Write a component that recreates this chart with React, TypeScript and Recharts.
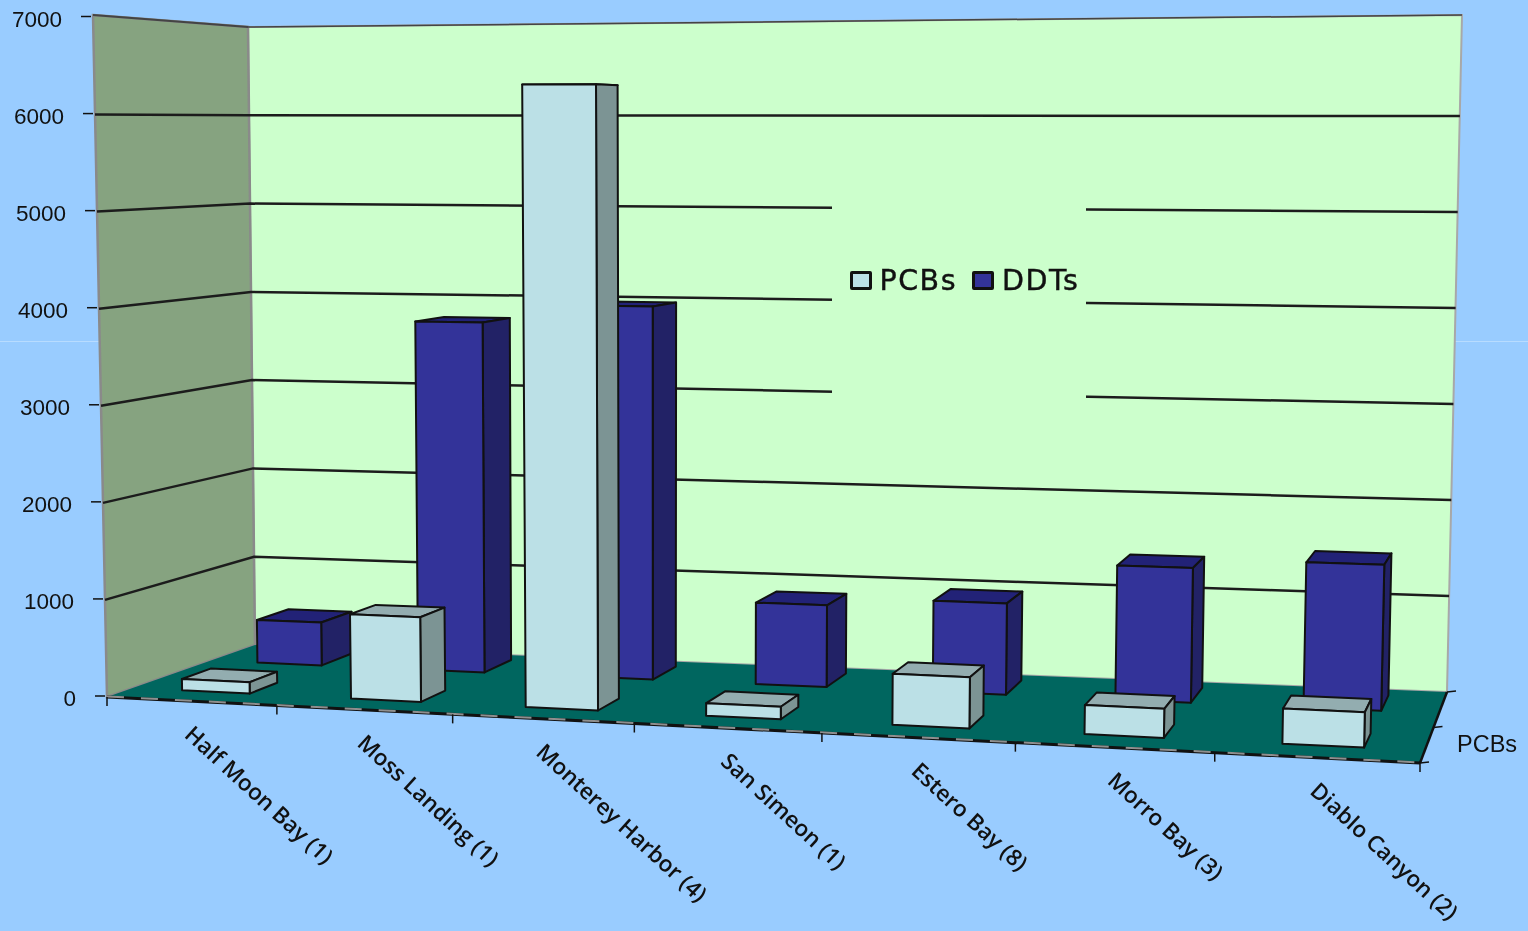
import { BarChart, Bar, XAxis, YAxis, CartesianGrid, Legend } from 'recharts';

const categories = [
  'Half Moon Bay (1)',
  'Moss Landing (1)',
  'Monterey Harbor (4)',
  'San Simeon (1)',
  'Estero Bay (8)',
  'Morro Bay (3)',
  'Diablo Canyon (2)',
];
const pcbValues = [118, 865, 6300, 125, 500, 280, 335];
const ddtValues = [467, 3767, 3965, 857, 945, 1375, 1470];
const yTicks = [0, 1000, 2000, 3000, 4000, 5000, 6000, 7000];

const chartData = categories.map((name, i) => ({ name, PCBs: pcbValues[i], DDTs: ddtValues[i] }));

// plot rectangle handed to recharts, the projection below maps it onto the tilted box
const WIDTH = 1528;
const HEIGHT = 931;
const PLOT_LEFT = 105;
const PLOT_TOP = 16;
const PLOT_RIGHT = 1420;
const PLOT_BOTTOM = 697;
const BAR_SIZE = 76;

type Pt = [number, number];

const floorFL: Pt = [107, 697];
const floorFR: Pt = [1420, 763];
const floorBL: Pt = [255, 645];
const floorBR: Pt = [1447, 692];
const topFL: Pt = [93, 17.5];
const topFR: Pt = [1437, 4];
const topBL: Pt = [248, 27];
const topBR: Pt = [1462, 20];
// drawn outline of the walls, slightly off the scale corners
const wallFL: Pt = [93, 15];
const wallBR: Pt = [1462, 15];

const mix = (a: Pt, b: Pt, t: number): Pt => [a[0] + (b[0] - a[0]) * t, a[1] + (b[1] - a[1]) * t];

// u along categories, w depth (0 front, 1 back wall), v height
function project(u: number, w: number, v: number): Pt {
  const ru = u - 0.11 * u * (1 - u);
  const floor = mix(mix(floorFL, floorFR, ru), mix(floorBL, floorBR, ru), w);
  const top = mix(mix(topFL, topFR, ru), mix(topBL, topBR, ru), w);
  return mix(floor, top, v);
}

const toU = (px: number) => (px - PLOT_LEFT) / (PLOT_RIGHT - PLOT_LEFT);
const toV = (py: number) => (PLOT_BOTTOM - py) / (PLOT_BOTTOM - PLOT_TOP);
const pts = (list: Pt[]) => list.map((p) => `${p[0].toFixed(1)},${p[1].toFixed(1)}`).join(' ');

// walls and floor sit in their own svg under the chart so the grid lines land on top
function Room() {
  const ticks = [];
  for (let i = 0; i <= categories.length; i++) {
    const p = project(i / categories.length, 0, 0);
    ticks.push(<line key={i} x1={p[0]} y1={p[1]} x2={p[0]} y2={p[1] + 9} stroke="#111" strokeWidth={1.5} />);
  }
  const depthTicks = [0, 0.5, 1].map((w) => {
    const p = project(1, w, 0);
    return <line key={w} x1={p[0]} y1={p[1]} x2={p[0] + 9} y2={p[1] - 1} stroke="#111" strokeWidth={1.5} />;
  });
  return (
    <svg width={WIDTH} height={HEIGHT} style={{ position: 'absolute', left: 0, top: 0 }}>
      <polygon points={pts([topBL, wallBR, floorBR, floorBL])} fill="#ccffcc" stroke="#a8a8a8" strokeWidth={2} />
      <polygon points={pts([wallFL, topBL, floorBL, floorFL])} fill="#86a380" stroke="#8a8a8a" strokeWidth={2.5} />
      <polygon points={pts([floorFL, floorFR, floorBR, floorBL])} fill="#00665f" />
      <line x1={wallFL[0]} y1={wallFL[1]} x2={topBL[0]} y2={topBL[1]} stroke="#444" strokeWidth={2} />
      <line x1={topBL[0]} y1={topBL[1]} x2={wallBR[0]} y2={wallBR[1]} stroke="#444" strokeWidth={1.5} />
      <line x1={floorFL[0]} y1={floorFL[1]} x2={floorFR[0]} y2={floorFR[1]} stroke="#111" strokeWidth={3} />
      <line x1={floorFL[0]} y1={floorFL[1] - 0.5} x2={floorFR[0]} y2={floorFR[1] - 0.5} stroke="#8f8f8f" strokeWidth={2} strokeDasharray="17 17" />
      <line x1={floorFR[0]} y1={floorFR[1]} x2={floorBR[0]} y2={floorBR[1]} stroke="#111" strokeWidth={2.5} />
      {ticks}
      {depthTicks}
    </svg>
  );
}

// one horizontal grid value becomes a line across the left wall and the back wall
function wallLine(props: any) {
  const v = toV(props.y1);
  if (v <= 0.001 || v >= 0.999) return <g key={props.key} />;
  const a = project(0, 0, v);
  const b = project(0, 1, v);
  const c = project(1, 1, v);
  return <polyline key={props.key} points={pts([a, b, c])} fill="none" stroke="#1c1c1c" strokeWidth={2.5} />;
}

const pcbColors = { front: '#bbe0e6', top: '#93adb0', side: '#7c9494' };
const ddtColors = { front: '#333399', top: '#222277', side: '#222266' };

function Box(props: any) {
  const { x, y, width, w0, depth, colors } = props;
  const w1 = w0 + depth;
  const a = toU(x);
  const b = toU(x + width);
  const v = toV(y);
  const stroke = { stroke: '#111', strokeWidth: 2, strokeLinejoin: 'round' as const };
  return (
    <g>
      <polygon points={pts([project(a, w0, v), project(b, w0, v), project(b, w1, v), project(a, w1, v)])} fill={colors.top} {...stroke} />
      <polygon points={pts([project(b, w0, v), project(b, w1, v), project(b, w1, 0), project(b, w0, 0)])} fill={colors.side} {...stroke} />
      <polygon points={pts([project(a, w0, v), project(b, w0, v), project(b, w0, 0), project(a, w0, 0)])} fill={colors.front} {...stroke} />
    </g>
  );
}

function YTick(props: any) {
  const { y, payload } = props;
  const p = project(0, 0, toV(y));
  return (
    <g>
      <line x1={p[0] - 12} y1={p[1] - 1} x2={p[0] - 2} y2={p[1] - 1} stroke="#111" strokeWidth={1.5} />
      <text x={p[0] - 31} y={p[1] + 9} textAnchor="end" fontFamily="Liberation Sans" fontSize={22.5} fill="#111">
        {payload.value}
      </text>
    </g>
  );
}

function XTick(props: any) {
  const { x, payload } = props;
  const p = project(toU(x), 0, 0);
  const tx = p[0] - 8;
  const ty = p[1] + 35;
  return (
    <text
      x={tx}
      y={ty}
      textAnchor="start"
      fontFamily="Open Sans"
      fontWeight={600}
      fontSize={22.5}
      fill="#111"
      transform={`rotate(42.5 ${tx} ${ty})`}
    >
      {payload.value}
    </text>
  );
}

function LegendBox({ payload }: any) {
  const items = [...(payload || [])].reverse();
  return (
    <div
      style={{
        boxSizing: 'border-box',
        width: 254,
        height: 265,
        paddingLeft: 11,
        paddingTop: 6,
        background: '#ccffcc',
        display: 'flex',
        alignItems: 'center',
        justifyContent: 'center',
        gap: 15,
        fontFamily: 'DejaVu Sans',
        fontSize: 28.5,
        letterSpacing: 1.5,
        WebkitTextStroke: '0.4px #111',
        color: '#111',
      }}
    >
      {items.map((item: any) => (
        <span key={item.value} style={{ display: 'flex', alignItems: 'center', gap: 8 }}>
          <span style={{ width: 16, height: 13, background: item.color, border: '3px solid #111', borderRadius: 2 }} />
          {item.value}
        </span>
      ))}
    </div>
  );
}

export default function App() {
  return (
    <div
      style={{
        position: 'absolute',
        left: 0,
        top: 0,
        width: WIDTH,
        height: HEIGHT,
        background: '#99ccff',
        overflow: 'hidden',
        filter: 'blur(0.4px)',
      }}
    >
      <div style={{ position: 'absolute', left: 0, top: 341, width: WIDTH, height: 1, background: '#b8dcff' }} />
      <Room />
      <BarChart
        width={WIDTH}
        height={HEIGHT}
        data={chartData}
        margin={{ top: PLOT_TOP, right: WIDTH - PLOT_RIGHT, bottom: 0, left: 0 }}
        barSize={BAR_SIZE}
        barGap={-BAR_SIZE}
      >
        <CartesianGrid vertical={false} horizontal={wallLine} />
        <XAxis dataKey="name" height={HEIGHT - PLOT_BOTTOM} axisLine={false} tickLine={false} interval={0} tick={<XTick />} />
        <YAxis width={PLOT_LEFT} domain={[0, 7000]} ticks={yTicks} axisLine={false} tickLine={false} tick={<YTick />} />
        <Legend
          layout="horizontal"
          verticalAlign="middle"
          content={<LegendBox />}
          wrapperStyle={{ position: 'absolute', left: 832, top: 145, width: 254, height: 265 }}
        />
        <Bar
          dataKey="DDTs"
          name="DDTs"
          fill={ddtColors.front}
          isAnimationActive={false}
          shape={(p: any) => <Box {...p} w0={0.7} depth={0.22} colors={ddtColors} />}
        />
        <Bar
          dataKey="PCBs"
          name="PCBs"
          fill={pcbColors.front}
          isAnimationActive={false}
          shape={(p: any) => <Box {...p} w0={0.175} depth={0.2} colors={pcbColors} />}
        />
      </BarChart>
      <div style={{ position: 'absolute', left: 1457, top: 731, fontFamily: 'Liberation Sans', fontSize: 23.5, color: '#111' }}>
        PCBs
      </div>
    </div>
  );
}
